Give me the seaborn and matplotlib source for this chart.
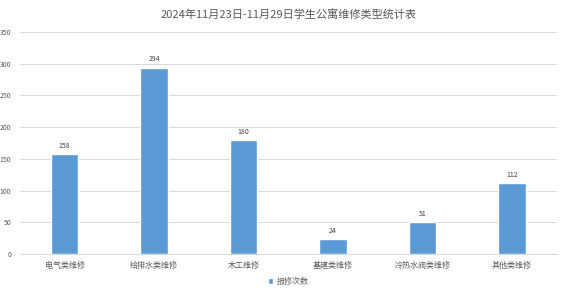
import matplotlib
matplotlib.use("Agg")
import matplotlib.pyplot as plt
import seaborn as sns
import pandas as pd

categories = ["电气类维修", "给排水类维修", "木工维修", "基建类维修", "冷热水阀类维修", "其他类维修"]
values = [158, 294, 180, 24, 51, 112]
yticks = [0, 50, 100, 150, 200, 250, 300, 350]
title = "2024年11月23日-11月29日学生公寓维修类型统计表"
legend_label = "报修次数"

sns.set_theme(style="white")
plt.rcParams['font.family'] = ['Noto Sans CJK SC', 'DejaVu Sans']

df = pd.DataFrame({"类型": categories, legend_label: values})

fig = plt.figure(figsize=(5.67, 2.94), dpi=100)
ax = fig.add_axes([0.035, 0.136, 0.947, 0.755])
sns.barplot(data=df, x="类型", y=legend_label, color="#5B9BD5", width=0.31,
            saturation=1, ax=ax, label=legend_label)
ax.set_ylim(0, 350)
ax.set_yticks(yticks)
ax.set_yticklabels([str(t) for t in yticks], fontsize=5, color="#595959")
ax.tick_params(axis='x', labelsize=5.8, colors="#595959", length=0, pad=5)
ax.tick_params(axis='y', length=0, pad=6)
ax.yaxis.grid(True, color="#D9D9D9", linewidth=0.7)
ax.set_axisbelow(True)
for s in ["top", "right", "left"]:
    ax.spines[s].set_visible(False)
ax.spines["bottom"].set_color("#D9D9D9")
ax.spines["bottom"].set_linewidth(0.7)
ax.set_xlabel("")
ax.set_ylabel("")
for c in ax.containers:
    ax.bar_label(c, fontsize=5, color="#404040", padding=3)
ax.set_title(title, fontsize=8, color="#595959", pad=10)
leg = ax.legend(loc="upper center", bbox_to_anchor=(0.5, -0.07), frameon=False,
                fontsize=5.8, handlelength=0.6, handleheight=0.6, handletextpad=0.4)
for t in leg.get_texts():
    t.set_color("#595959")
fig.savefig("out.png", dpi=100)
